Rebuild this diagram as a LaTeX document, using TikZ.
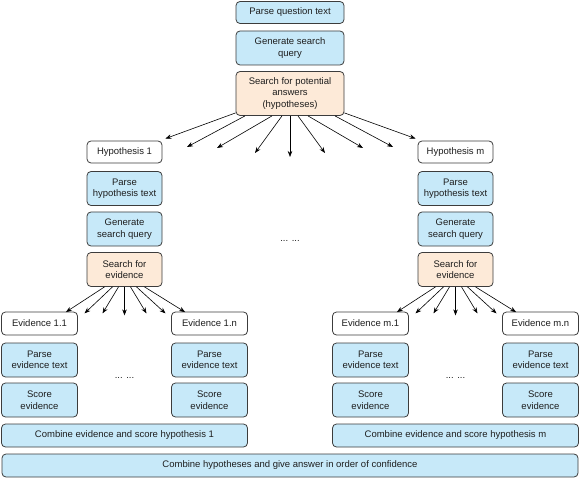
\documentclass[tikz,border=0pt]{standalone}
\usepackage{fontspec}
\setmainfont{Liberation Sans}
\usetikzlibrary{arrows.meta,calc}
\definecolor{bluefill}{RGB}{199,233,249}
\definecolor{peachfill}{RGB}{253,234,216}
\definecolor{edgecol}{RGB}{60,60,60}
\definecolor{txtcol}{RGB}{30,30,30}
\begin{document}
\begin{tikzpicture}[x=1pt,y=-1pt,
  box/.style={draw=edgecol,line width=0.8pt,rounded corners=4pt,align=center,
    inner sep=0pt,font=\fontsize{9.5}{11.5}\selectfont,text=txtcol},
  bluebox/.style={box,fill=bluefill},
  peachbox/.style={box,fill=peachfill},
  whitebox/.style={box,fill=white},
  sz/.style 2 args={minimum width=#1pt,minimum height=#2pt},
  arr/.style={line width=0.6pt,-{Stealth[length=6pt,width=4.5pt]}},
  dotsnode/.style={font=\fontsize{9.5}{11.5}\selectfont,text=txtcol,inner sep=0pt}]
\useasboundingbox (0,0) rectangle (580,478);

\node[bluebox,sz={108}{22}] (q) at (290,12.5) {Parse question text};
\node[bluebox,sz={108}{34}] (g) at (290,48) {Generate search\\query};
\node[peachbox,sz={108}{44}] (s) at (290,93.5) {Search for potential\\answers\\(hypotheses)};

\foreach \k/\cx in {1/124.5,m/455.5}{
  \node[whitebox,sz={75}{22}] (h\k) at (\cx,152) {Hypothesis \k};
  \node[bluebox,sz={75}{34}] (p\k) at (\cx,188.5) {Parse\\hypothesis text};
  \node[bluebox,sz={75}{34}] (g\k) at (\cx,229) {Generate\\search query};
  \node[peachbox,sz={75}{34}] (s\k) at (\cx,269.5) {Search for\\evidence};
  \node[whitebox,sz={76}{23}] (e\k a) at (\cx-85,323.5) {Evidence \k.1};
  \node[whitebox,sz={76}{23}] (e\k b) at (\cx+85,323.5) {Evidence \k.n};
  \node[bluebox,sz={76}{34}] (pe\k a) at (\cx-85,360) {Parse\\evidence text};
  \node[bluebox,sz={76}{34}] (pe\k b) at (\cx+85,360) {Parse\\evidence text};
  \node[bluebox,sz={76}{34}] (se\k a) at (\cx-85,400) {Score\\evidence};
  \node[bluebox,sz={76}{34}] (se\k b) at (\cx+85,400) {Score\\evidence};
  \node[bluebox,sz={246}{23}] (c\k) at (\cx,435.5) {Combine evidence and score hypothesis \k};
  \node[dotsnode] (d\k) at (\cx,378) {... ...};
  % evidence fan
  \coordinate (v\k a) at ($(s\k.south)+(-40,26.5)$);
  \coordinate (v\k b) at ($(s\k.south)+(-22,26.5)$);
  \coordinate (v\k c) at ($(s\k.south)+(0,28.5)$);
  \coordinate (v\k d) at ($(s\k.south)+(22,26.5)$);
  \coordinate (v\k e) at ($(s\k.south)+(41,26.5)$);
  \draw[arr] ([xshift=-20pt]s\k.south) -- ([xshift=-12pt,yshift=-0.5pt]e\k a.north east);
  \draw[arr] ([xshift=-12pt]s\k.south) -- (v\k a);
  \draw[arr] ([xshift=-6pt]s\k.south) -- (v\k b);
  \draw[arr] (s\k.south) -- (v\k c);
  \draw[arr] ([xshift=6pt]s\k.south) -- (v\k d);
  \draw[arr] ([xshift=12pt]s\k.south) -- (v\k e);
  \draw[arr] ([xshift=20pt]s\k.south) -- ([xshift=14pt,yshift=-0.5pt]e\k b.north west);
}

\node[dotsnode] (dmid) at (290,241) {... ...};
\node[bluebox,sz={576}{23}] (fin) at (290,465.5) {Combine hypotheses and give answer in order of confidence};

% hypothesis fan
\coordinate (f1) at (187,147);
\coordinate (f2) at (217,148);
\coordinate (f3) at (255,153);
\coordinate (f4) at (290,157);
\coordinate (f5) at (325,153);
\coordinate (f6) at (363,148);
\coordinate (f7) at (393,147);
\draw[arr] ([yshift=3pt]s.south west) -- ([shift={(3,-2)}]h1.north east);
\draw[arr] ([xshift=-45pt]s.south) -- (f1);
\draw[arr] ([xshift=-18pt]s.south) -- (f2);
\draw[arr] ([xshift=-8pt]s.south) -- (f3);
\draw[arr] (s.south) -- (f4);
\draw[arr] ([xshift=8pt]s.south) -- (f5);
\draw[arr] ([xshift=18pt]s.south) -- (f6);
\draw[arr] ([xshift=45pt]s.south) -- (f7);
\draw[arr] ([yshift=3pt]s.south east) -- ([shift={(-2,-2)}]hm.north west);
\end{tikzpicture}
\end{document}
